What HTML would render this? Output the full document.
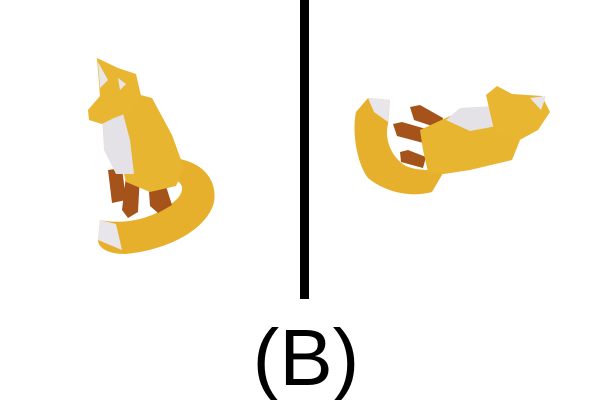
<!DOCTYPE html>
<html><head><meta charset="utf-8"><style>
html,body{margin:0;padding:0;background:#fff;}
svg{display:block;}
</style></head><body>
<svg width="610" height="400" viewBox="0 0 610 400" xmlns="http://www.w3.org/2000/svg">
<g>
  <path d="M172,158 C200,160 218,178 214,202 C208,228 170,250 125,254 C108,254 98,248 98,240 L100,220 C130,226 160,216 178,198 C186,188 182,180 168,178 Z" fill="#e6b02c"/>
  <path d="M98,240 L100,220 L116,224 L122,250 Z" fill="#e8e6ea"/>
  <path d="M108,170 L122,168 L126,200 L112,203 Z M126,176 L140,174 L138,212 L128,218 L122,210 Z M148,178 L164,180 L172,205 L158,213 L150,206 Z" fill="#a5531a"/>
  <path d="M122,90 L152,98 L172,135 L184,168 L176,186 L150,192 L126,182 L118,150 Z" fill="#e8b530"/>
  <path d="M102,118 L122,110 L130,140 L134,174 L116,174 L104,150 Z" fill="#e4e2e6"/>
  <path d="M97,58 L118,68 L136,74 L142,100 L130,112 L114,118 L102,124 L89,120 L88,110 L100,96 Z" fill="#e9b632"/>
  <path d="M98,62 L108,80 L100,88 Z M118,78 L126,84 L120,90 Z" fill="#e8e6ea"/>
</g>
<g>
  <path d="M356,112 L368,98 L390,100 L388,124 C384,140 392,158 406,166 C420,172 438,170 446,168 L432,192 C410,198 385,192 368,178 C356,162 352,130 356,112 Z" fill="#e6b02c"/>
  <path d="M368,98 L390,100 L388,122 L374,112 Z" fill="#e8e6ea"/>
  <path d="M410,107 L420,105 L443,118 L441,129 L414,120 Z M393,124 L402,122 L433,131 L431,145 L397,136 Z M400,152 L408,150 L426,157 L423,168 L401,162 Z" fill="#a5531a"/>
  <path d="M420,130 L450,116 L496,120 L520,140 L512,160 L470,170 L444,174 L428,172 L423,150 Z" fill="#e8b530"/>
  <path d="M446,120 L460,108 L492,106 L497,126 L470,131 Z" fill="#e4e2e6"/>
  <path d="M486,95 L497,86 L512,94 L542,96 L550,112 L538,130 L516,142 L494,130 Z" fill="#e9b632"/>
  <path d="M530,98 L546,96 L541,110 Z" fill="#e8e6ea"/>
</g>
<rect x="300" y="0" width="9" height="299" fill="#000"/>
<text x="306" y="385" text-anchor="middle" font-family="Liberation Sans, sans-serif" font-size="80" fill="#000">(B)</text>
</svg>
</body></html>
